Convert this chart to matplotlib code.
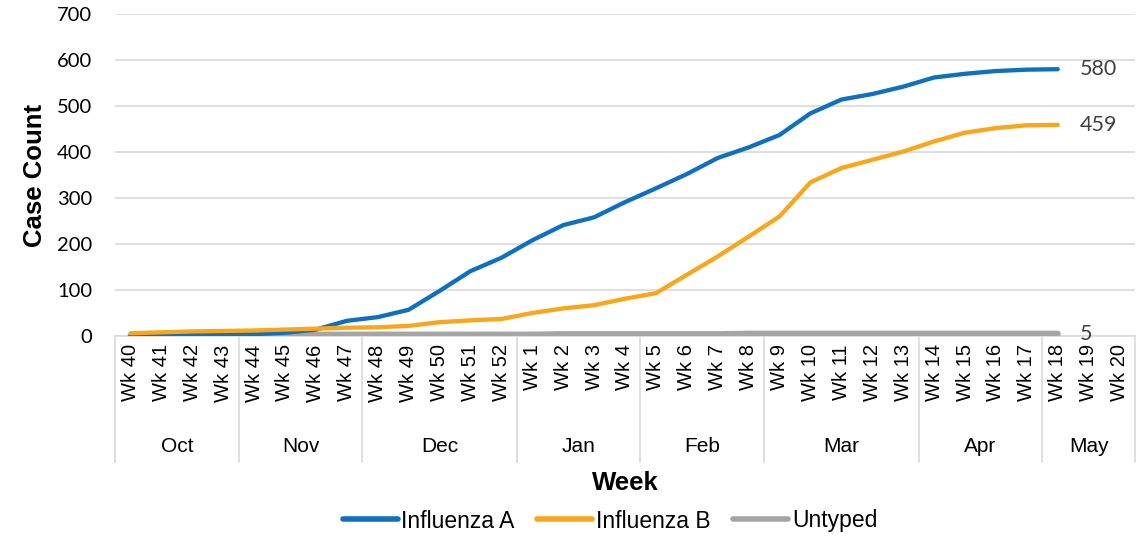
import matplotlib
matplotlib.use("Agg")
import matplotlib.pyplot as plt
from matplotlib.transforms import blended_transform_factory
from matplotlib.lines import Line2D

weeks = ["Wk 40", "Wk 41", "Wk 42", "Wk 43", "Wk 44", "Wk 45", "Wk 46", "Wk 47",
         "Wk 48", "Wk 49", "Wk 50", "Wk 51", "Wk 52", "Wk 1", "Wk 2", "Wk 3", "Wk 4",
         "Wk 5", "Wk 6", "Wk 7", "Wk 8", "Wk 9", "Wk 10", "Wk 11", "Wk 12", "Wk 13",
         "Wk 14", "Wk 15", "Wk 16", "Wk 17", "Wk 18", "Wk 19", "Wk 20"]
months = ["Oct", "Nov", "Dec", "Jan", "Feb", "Mar", "Apr", "May"]
month_sizes = [4, 4, 5, 4, 4, 5, 4, 3]

flu_a = [0, 1, 2, 3, 4, 7, 14, 33, 41, 57, 98, 141, 170, 208, 241, 258, 291,
         321, 352, 387, 410, 437, 484, 514, 526, 542, 562, 570, 576, 579, 580]
flu_b = [6, 8, 10, 11, 12, 14, 16, 18, 19, 22, 30, 34, 37, 50, 60, 67, 81,
         93, 133, 173, 216, 260, 334, 365, 383, 401, 423, 442, 452, 458, 459]
untyped = [0, 0, 0, 0, 1, 2, 3, 3, 3, 3, 3, 3, 3, 3, 4, 4, 4,
           4, 4, 4, 5, 5, 5, 5, 5, 5, 5, 5, 5, 5, 5]

c_a = "#1170BE"
c_b = "#FAA61A"
c_u = "#A5A5A5"
grid_c = "#D9D9D9"

fig = plt.figure(figsize=(11.45, 5.38), dpi=100)
ax = fig.add_axes([115/1145, (538-336)/538, (1135-115)/1145, (336-14)/538])

x = list(range(len(flu_a)))
ax.plot(x, untyped, color=c_u, lw=4.4, solid_capstyle="round", zorder=3)
ax.plot(x, flu_a, color=c_a, lw=3.1, solid_capstyle="round", zorder=4)
ax.plot(x, flu_b, color=c_b, lw=3.1, solid_capstyle="round", zorder=5)

ax.set_xlim(-0.5, len(weeks) - 0.5)
ax.set_ylim(0, 700)
ax.set_yticks(range(0, 701, 100))
ax.set_yticklabels([str(v) for v in range(0, 701, 100)], fontsize=14.5,
                   family="Lato", color="#000000")
ax.yaxis.grid(True, color=grid_c, lw=1.2)
ax.set_axisbelow(True)
ax.tick_params(axis="y", length=0, pad=16.5)

ax.set_xticks(range(len(weeks)))
ax.set_xticklabels(weeks, rotation=90, fontsize=14.5, family="Liberation Sans")
ax.tick_params(axis="x", length=0, pad=6)

for s in ["top", "right", "left"]:
    ax.spines[s].set_visible(False)
ax.spines["bottom"].set_color(grid_c)
ax.spines["bottom"].set_linewidth(1.2)

trans = blended_transform_factory(ax.transData, ax.transAxes)
bottom = -(462 - 336) / 322
pos = -0.5
bounds = [pos]
for n in month_sizes:
    pos += n
    bounds.append(pos)
for b in bounds:
    ax.add_line(Line2D([b, b], [0, bottom], transform=trans, color=grid_c,
                       lw=1.2, clip_on=False))
for i, m in enumerate(months):
    xc = (bounds[i] + bounds[i + 1]) / 2
    ax.text(xc, -(447 - 336) / 322, m, transform=trans, ha="center", va="center",
            fontsize=15, family="Liberation Sans")

ax.text(0.5, -(483 - 336) / 322, "Week", transform=ax.transAxes, ha="center",
        va="center", fontsize=18.5, fontweight="bold", family="Liberation Sans")
fig.text(35/1145, 1 - 175/538, "Case Count", rotation=90, ha="center", va="center",
         fontsize=18.5, fontweight="bold", family="Liberation Sans")

last = len(flu_a) - 1
for vals in [flu_a, flu_b, untyped]:
    ax.annotate(str(vals[-1]), (last, vals[-1]), xytext=(16, 0),
                textcoords="offset points", ha="left", va="center",
                fontsize=15.5, family="Lato", color="#404040")

handles = [Line2D([], [], color=c_a, lw=4, solid_capstyle="round"),
           Line2D([], [], color=c_b, lw=4, solid_capstyle="round"),
           Line2D([], [], color=c_u, lw=4, solid_capstyle="round")]
fig.legend(handles, ["Influenza A", "Influenza B", "Untyped"], loc="center",
           bbox_to_anchor=(610/1145, 1 - 521/538), ncol=3, frameon=False,
           prop={"family": "Liberation Sans", "size": 16.5}, handlelength=2.4,
           handletextpad=0.15, columnspacing=1.0)

fig.savefig("out.png", dpi=100)
